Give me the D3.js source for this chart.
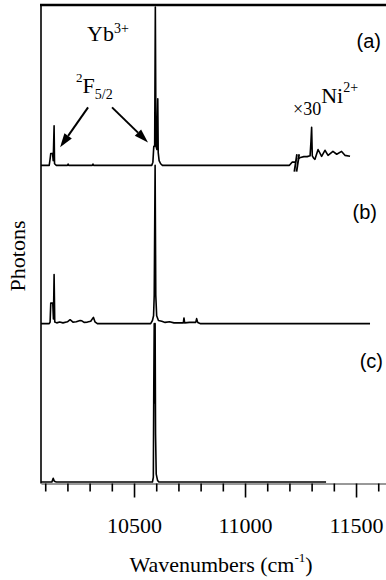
<!DOCTYPE html>
<html>
<head>
<meta charset="utf-8">
<script src="https://cdn.jsdelivr.net/npm/d3@7"></script>
<style>
  body { margin: 0; background: #fff; }
  .trace { fill: none; stroke: #000; stroke-width: 1.6; stroke-linejoin: round; }
  .tick line { stroke: #000; stroke-width: 1.6; }
</style>
</head>
<body>
<script>
// spectra as [wavenumber (cm-1), photons], each scaled to its own panel (0..1)
const spectrumA = [
  [10081, 0], [10118, 0], [10122, 0.04], [10125, 0.075], [10133, 0.075], [10136, 0.03],
  [10140, 0.25], [10142, 0.01], [10150, 0], [10200, 0], [10203, 0.008], [10206, 0],
  [10312, 0], [10315, 0.008], [10318, 0], [10580, 0], [10585, 0.02], [10589, 0.12],
  [10593, 0.12], [10596, 1.0], [10599, 0.12], [10603, 0.1], [10607, 0.42], [10609, 0.08],
  [10613, 0.03], [10620, 0.01], [10628, 0], [11200, 0], [11212, 0.02], [11228, 0.02]
];
// x30 Ni2+ part after the break
const spectrumANi = [
  [11238, 0.04], [11250, 0.05], [11265, 0.055], [11280, 0.055], [11293, 0.06],
  [11297, 0.15], [11300, 0.24], [11303, 0.06], [11309, 0.045], [11315, 0.038],
  [11329, 0.1], [11345, 0.057], [11360, 0.095], [11374, 0.063], [11396, 0.088],
  [11413, 0.07], [11435, 0.088], [11450, 0.063], [11473, 0.057]
];
const spectrumB = [
  [10081, 0], [10118, 0], [10122, 0.01], [10125, 0.13], [10134, 0.13], [10137, 0.03],
  [10140, 0.31], [10143, 0.01], [10152, 0.005], [10165, 0.01], [10180, 0.005],
  [10200, 0.012], [10212, 0.025], [10225, 0.01], [10240, 0.012], [10257, 0.02],
  [10265, 0.018], [10275, 0.008], [10290, 0.01], [10305, 0.015], [10317, 0.04],
  [10324, 0.012], [10335, 0], [10575, 0], [10583, 0.02], [10588, 0.05], [10591, 0.18],
  [10595, 1.0], [10598, 0.18], [10602, 0.05], [10610, 0.02], [10625, 0.015],
  [10640, 0.008], [10660, 0.012], [10680, 0.005], [10700, 0.005], [10722, 0.005],
  [10725, 0.036], [10728, 0.005], [10750, 0.008], [10778, 0.008], [10782, 0.032],
  [10787, 0.008], [10800, 0], [11563, 0]
];
const spectrumC = [
  [10081, 0], [10130, 0], [10136, 0.023], [10141, 0.005], [10150, 0], [10583, 0],
  [10587, 0.03], [10589, 0.6], [10591, 1.0], [10593, 0.5], [10595, 1.0], [10597, 0.3],
  [10600, 0.05], [10606, 0.01], [10612, 0], [11365, 0]
];

const panelLabels = ["(a)", "(b)", "(c)"];
const minorTicks = d3.range(10100, 11601, 100).filter(v => v % 500 !== 0);
const majorTicks = [10500, 11000, 11500];

const width = 386,
  height = 580;
const serif = "Liberation Serif",
  sans = "Liberation Sans";

const x = d3.scaleLinear().domain([10081, 11635]).range([41, 386]);
// three panels stacked: (c) at 0, (b) at 1, (a) at 2
const y = d3.scaleLinear().domain([0, 3]).range([482, 7]);

const svg = d3
  .select("body")
  .append("svg")
    .attr("width", width)
    .attr("height", height)
    .attr("font-family", serif);

const line = off => d3
  .line()
  .x(d => x(d[0]))
  .y(d => y(d[1] + off));

[
  [spectrumA, 2],
  [spectrumANi, 2],
  [spectrumB, 1],
  [spectrumC, 0]
].forEach(([data, off]) => {
  svg
    .append("path")
      .attr("class", "trace")
      .attr("d", line(off)(data));
});

// break marks before the x30 segment
[11228, 11238].forEach(v => {
  svg
    .append("line")
      .attr("x1", x(v) - 1.3)
      .attr("y1", y(2 - 0.04))
      .attr("x2", x(v) + 1.3)
      .attr("y2", y(2 + 0.07))
      .attr("stroke", "#000")
      .attr("stroke-width", 1.8);
});

// frame: top rule and left axis
svg
  .append("line")
    .attr("x1", 40)
    .attr("x2", width)
    .attr("y1", 5)
    .attr("y2", 5)
    .attr("stroke", "#000")
    .attr("stroke-width", 2.6);

svg
  .append("line")
    .attr("x1", x(10081))
    .attr("x2", x(10081))
    .attr("y1", 6)
    .attr("y2", y(0) + 1.5)
    .attr("stroke", "#000")
    .attr("stroke-width", 1.6);

// x axis
const axisY = y(0) + 1.5;

svg
  .append("g")
    .attr("transform", "translate(0," + axisY + ")")
    .call(d3.axisBottom(x).tickValues(minorTicks).tickSize(8).tickSizeOuter(0).tickFormat(""))
    .call(g => g.select(".domain").attr("stroke", "#333").attr("stroke-width", 1));

svg
  .append("g")
    .attr("transform", "translate(0," + axisY + ")")
    .call(d3.axisBottom(x).tickValues(majorTicks).tickSize(14).tickPadding(20).tickFormat(d3.format("d")))
    .call(g => g.select(".domain").remove())
    .call(g => g.attr("font-family", serif).attr("font-size", 22))
    .call(g => g.selectAll("text").attr("fill", "#000"));

// axis titles
const xTitle = svg
  .append("text")
    .attr("x", 221)
    .attr("y", 572)
    .attr("text-anchor", "middle")
    .attr("font-size", 22);
xTitle.append("tspan").text("Wavenumbers (cm");
xTitle.append("tspan").attr("font-size", 13).attr("dy", -10).text("-1");
xTitle.append("tspan").attr("dy", 10).text(")");

svg
  .append("text")
    .attr("transform", "translate(25,256) rotate(-90)")
    .attr("text-anchor", "middle")
    .attr("font-size", 22)
    .text("Photons");

// panel labels
svg.selectAll(".panel")
  .data(panelLabels)
  .enter()
  .append("text")
    .attr("class", "panel")
    .attr("font-family", sans)
    .attr("font-size", 20)
    .attr("text-anchor", "end")
    .attr("x", (d, i) => [381, 377, 383][i])
    .attr("y", (d, i) => [48, 219, 368][i])
    .text(d => d);

// annotations
const yb = svg.append("text").attr("x", 87).attr("y", 41).attr("font-size", 22);
yb.append("tspan").text("Yb");
yb.append("tspan").attr("font-size", 14).attr("dy", -8).text("3+");

const f52 = svg.append("text").attr("x", 76).attr("y", 93).attr("font-size", 22);
f52.append("tspan").attr("font-size", 13).attr("dy", -11).text("2");
f52.append("tspan").attr("dy", 11).text("F");
f52.append("tspan").attr("font-size", 14).attr("dy", 6).text("5/2");

const ni = svg.append("text").attr("x", 293).attr("y", 115).attr("font-size", 18);
ni.append("tspan").text("×30");
ni.append("tspan").attr("font-size", 22).attr("dy", -12).text("Ni");
ni.append("tspan").attr("font-size", 14).attr("dy", -11).text("2+");

// arrows pointing to the 2F5/2 lines: [from, to] in (wavenumber, offset units)
const arrows = [
  [[10293, 2.366], [10167, 2.114]],
  [[10401, 2.366], [10563, 2.145]]
];

arrows.forEach(([a, b]) => {
  const x1 = x(a[0]), y1 = y(a[1]), x2 = x(b[0]), y2 = y(b[1]);
  const len = Math.hypot(x2 - x1, y2 - y1);
  const ux = (x2 - x1) / len, uy = (y2 - y1) / len;
  const hl = 14, hw = 4.5;
  const bx = x2 - ux * hl, by = y2 - uy * hl;
  svg
    .append("line")
      .attr("x1", x1)
      .attr("y1", y1)
      .attr("x2", bx)
      .attr("y2", by)
      .attr("stroke", "#000")
      .attr("stroke-width", 2);
  svg
    .append("path")
      .attr("d", "M" + x2 + "," + y2 +
        "L" + (bx - uy * hw) + "," + (by + ux * hw) +
        "L" + (bx + uy * hw) + "," + (by - ux * hw) + "Z")
      .attr("fill", "#000");
});
</script>
</body>
</html>
